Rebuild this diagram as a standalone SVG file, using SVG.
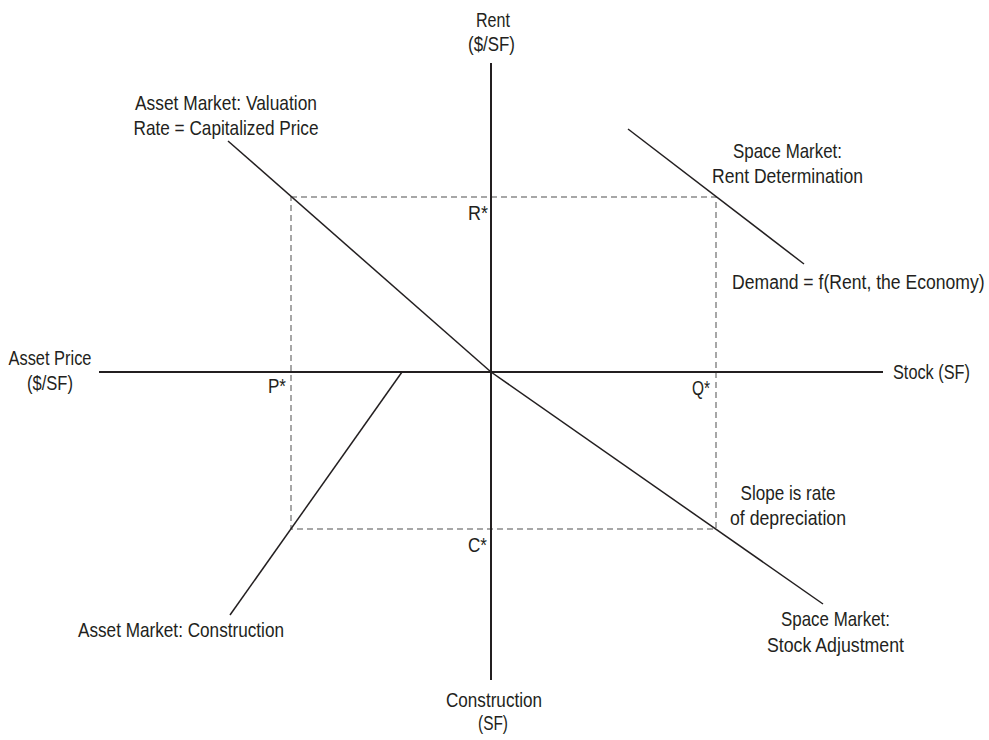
<svg xmlns="http://www.w3.org/2000/svg" width="989" height="740" viewBox="0 0 989 740">
<style>
text{font-family:"Liberation Sans",Arial,sans-serif;font-size:21px;fill:#231f20}
.c{text-anchor:middle}
.r{text-anchor:end}
.axis{stroke:#231f20;stroke-width:2;fill:none}
.curve{stroke:#231f20;stroke-width:1.5;fill:none}
.dash{stroke:#8a8a8a;stroke-width:1.5;stroke-dasharray:6 4;fill:none}
</style>
<rect width="989" height="740" fill="#fff"/>
<g id="connectors">
<rect class="dash" x="291" y="197" width="425" height="332"/>
<line class="axis" x1="491" y1="63" x2="491" y2="680"/>
<line class="axis" x1="99" y1="372" x2="883" y2="372"/>
<line class="curve" x1="228" y1="141" x2="491" y2="372"/>
<line class="curve" x1="491" y1="372" x2="823" y2="604"/>
<line class="curve" x1="628" y1="129" x2="804" y2="264"/>
<line class="curve" x1="402" y1="372" x2="230" y2="615"/>
</g>
<g id="rent-axis"><text class="c" x="493" y="27" textLength="34" lengthAdjust="spacingAndGlyphs">Rent</text><text class="c" x="491.5" y="51" textLength="47" lengthAdjust="spacingAndGlyphs">($/SF)</text></g>
<g id="valuation"><text class="c" x="226" y="110" textLength="182" lengthAdjust="spacingAndGlyphs">Asset Market: Valuation</text><text class="c" x="226" y="135" textLength="185" lengthAdjust="spacingAndGlyphs">Rate = Capitalized Price</text></g>
<g id="rent-determination"><text class="c" x="787.5" y="158" textLength="109" lengthAdjust="spacingAndGlyphs">Space Market:</text><text class="c" x="787.5" y="183" textLength="151" lengthAdjust="spacingAndGlyphs">Rent Determination</text></g>
<g id="demand"><text transform="translate(732,289) scale(0.838,1)" x="0" y="0">Demand = f(Rent, the Economy)</text></g>
<g id="r-star"><text class="r" x="488" y="220" textLength="20" lengthAdjust="spacingAndGlyphs">R*</text></g>
<g id="price-axis"><text class="c" x="50" y="365" textLength="83" lengthAdjust="spacingAndGlyphs">Asset Price</text><text class="c" x="50" y="390" textLength="46" lengthAdjust="spacingAndGlyphs">($/SF)</text></g>
<g id="p-star"><text class="r" x="286" y="393" textLength="18" lengthAdjust="spacingAndGlyphs">P*</text></g>
<g id="q-star"><text class="r" x="710" y="395" textLength="18" lengthAdjust="spacingAndGlyphs">Q*</text></g>
<g id="stock-axis"><text transform="translate(893,379) scale(0.776,1)" x="0" y="0">Stock (SF)</text></g>
<g id="slope"><text class="c" x="788" y="500" textLength="95" lengthAdjust="spacingAndGlyphs">Slope is rate</text><text class="c" x="788" y="525" textLength="116" lengthAdjust="spacingAndGlyphs">of depreciation</text></g>
<g id="c-star"><text class="r" x="487" y="552" textLength="19" lengthAdjust="spacingAndGlyphs">C*</text></g>
<g id="construction-line"><text class="c" x="181" y="637" textLength="206" lengthAdjust="spacingAndGlyphs">Asset Market: Construction</text></g>
<g id="stock-adjustment"><text class="c" x="835.5" y="626" textLength="109" lengthAdjust="spacingAndGlyphs">Space Market:</text><text class="c" x="835.5" y="652" textLength="137" lengthAdjust="spacingAndGlyphs">Stock Adjustment</text></g>
<g id="construction-axis"><text class="c" x="494" y="707" textLength="96" lengthAdjust="spacingAndGlyphs">Construction</text><text class="c" x="493" y="730" textLength="30" lengthAdjust="spacingAndGlyphs">(SF)</text></g>
</svg>
